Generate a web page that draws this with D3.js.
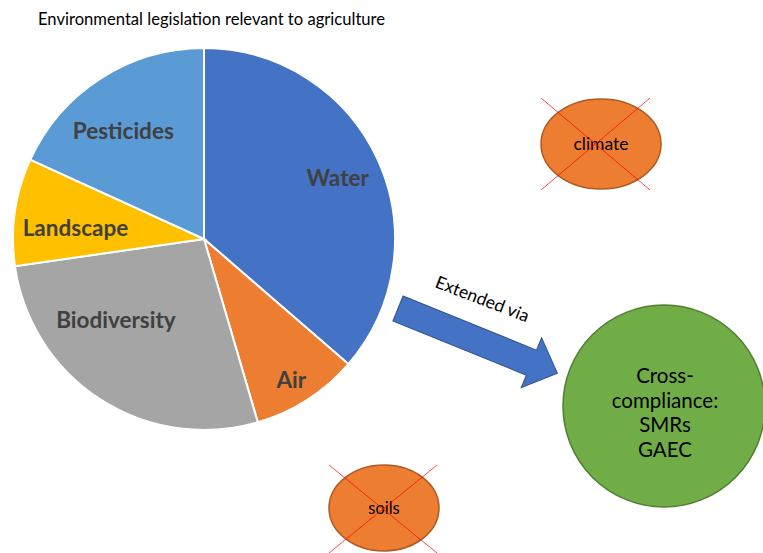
<!DOCTYPE html>
<html>
<head>
<meta charset="utf-8">
<script src="https://cdn.jsdelivr.net/npm/d3@7"></script>
<style>
  body { margin: 0; background: #fff; }
  svg { display: block; font-family: Lato, "Open Sans", sans-serif; }
</style>
</head>
<body>
<svg id="chart"></svg>
<script>
// data
const categories = ['Water', 'Air', 'Biodiversity', 'Landscape', 'Pesticides'];
const values = [4, 1, 3, 1, 2];
const colors = ['#4472C4', '#ED7D31', '#A5A5A5', '#FFC000', '#5B9BD5'];
const crossedOut = ['climate', 'soils'];
const targetLines = ['Cross-', 'compliance:', 'SMRs', 'GAEC'];

// 1. canvas
const width = 763, height = 553;
const svg = d3.select('#chart').attr('width', width).attr('height', height);

svg.append('text')
    .attr('x', 38).attr('y', 25)
    .attr('font-size', 16.6)
    .attr('fill', '#000')
    .text('Environmental legislation relevant to agriculture');

// 2. pie
const cx = 204, cy = 239, R = 191;
const pie = d3.pie().sort(null).value(d => d.v);
const arcs = pie(categories.map((c, i) => ({ name: c, v: values[i], color: colors[i] })));
const arc = d3.arc().innerRadius(0).outerRadius(R);

const g = svg.append('g').attr('transform', `translate(${cx},${cy})`);
g.selectAll('path.slice')
    .data(arcs)
    .enter()
    .append('path')
        .attr('class', 'slice')
        .attr('d', arc)
        .attr('fill', d => d.data.color)
        .attr('stroke', '#fff')
        .attr('stroke-width', 2);

// label placement (radius, angle nudge in degrees), like excel "best fit"
const labelPos = {
    Water: [147, 0], Air: [166, 1], Biodiversity: [120, 14.5],
    Landscape: [129, -3.5], Pesticides: [135, -4]
};
g.selectAll('text.lbl')
    .data(arcs)
    .enter()
    .append('text')
        .attr('class', 'lbl')
        .attr('transform', d => {
            const p = labelPos[d.data.name];
            const a = (d.startAngle + d.endAngle) / 2 + p[1] * Math.PI / 180;
            return `translate(${Math.sin(a) * p[0]},${-Math.cos(a) * p[0]})`;
        })
        .attr('text-anchor', 'middle')
        .attr('dy', '0.35em')
        .attr('font-size', 22.5)
        .attr('font-weight', 'bold')
        .attr('fill', '#404040')
        .text(d => d.data.name);

// 3. arrow
const arrowLen = 172, shaftW = 27, headW = 54, headL = 28;
const arrowPts = [
    [0, -shaftW / 2], [arrowLen - headL, -shaftW / 2], [arrowLen - headL, -headW / 2],
    [arrowLen, 0], [arrowLen - headL, headW / 2], [arrowLen - headL, shaftW / 2], [0, shaftW / 2]
];
svg.append('path')
    .attr('transform', 'translate(398,308.5) rotate(22.1)')
    .attr('d', d3.line()(arrowPts) + 'Z')
    .attr('fill', '#4472C4')
    .attr('stroke', '#2F528F')
    .attr('stroke-width', 1);

svg.append('text')
    .attr('transform', 'translate(434,287) rotate(21)')
    .attr('font-size', 17.5)
    .attr('fill', '#000')
    .text('Extended via');

// 4. crossed-out ellipses
const blobs = [
    { name: crossedOut[0], cx: 601, cy: 144, rx: 60, ry: 45, fs: 17.5, box: [541, 98, 650, 190] },
    { name: crossedOut[1], cx: 384, cy: 508, rx: 55, ry: 43, fs: 16.5, box: [329, 465, 437, 553] }
];
const bg = svg.selectAll('g.blob').data(blobs).enter().append('g').attr('class', 'blob');
bg.append('ellipse')
    .attr('cx', d => d.cx).attr('cy', d => d.cy)
    .attr('rx', d => d.rx).attr('ry', d => d.ry)
    .attr('fill', '#ED7D31')
    .attr('stroke', '#AE5A21')
    .attr('stroke-width', 1.5);
bg.append('text')
    .attr('x', d => d.cx).attr('y', d => d.cy)
    .attr('text-anchor', 'middle')
    .attr('dy', '0.35em')
    .attr('font-size', d => d.fs)
    .attr('fill', '#000')
    .text(d => d.name);
bg.append('line')
    .attr('x1', d => d.box[0]).attr('y1', d => d.box[1])
    .attr('x2', d => d.box[2]).attr('y2', d => d.box[3]);
bg.append('line')
    .attr('x1', d => d.box[2]).attr('y1', d => d.box[1])
    .attr('x2', d => d.box[0]).attr('y2', d => d.box[3]);
bg.selectAll('line')
    .attr('stroke', '#FF0000')
    .attr('stroke-opacity', 0.7)
    .attr('stroke-width', 1);

// 5. target circle
svg.append('circle')
    .attr('cx', 664).attr('cy', 406).attr('r', 101)
    .attr('fill', '#70AD47')
    .attr('stroke', '#507E32')
    .attr('stroke-width', 1.5);
svg.append('text')
    .attr('text-anchor', 'middle')
    .attr('font-size', 20.5)
    .attr('fill', '#000')
    .selectAll('tspan')
    .data(targetLines)
    .enter()
    .append('tspan')
        .attr('x', 665)
        .attr('y', (d, i) => 383 + i * 24.7)
        .text(d => d);
</script>
</body>
</html>
